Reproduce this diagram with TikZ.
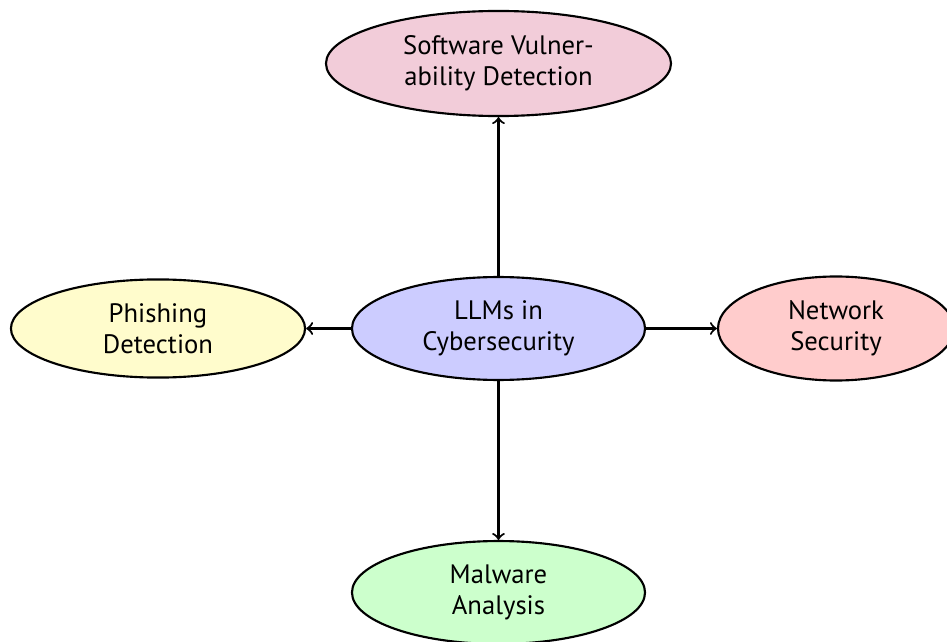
\documentclass[tikz,border=0pt]{standalone}
\usepackage{fontspec}
\setmainfont{PT Sans}
\usetikzlibrary{shapes.geometric}
\tikzset{
  topic/.style={ellipse, draw, thick, inner sep=0pt, align=center,
    font=\fontsize{10}{11.6}\selectfont},
  link/.style={->, thick}
}
\begin{document}
\begin{tikzpicture}[x=0.375pt, y=-0.375pt]
\useasboundingbox (0,0) rectangle (947,642);
\node[topic, fill=blue!20, minimum width=109.9pt, minimum height=38.6pt] (c) at (498.5,328.5) {LLMs in\\Cybersecurity};
\node[topic, fill=purple!20, minimum width=129.4pt, minimum height=39.4pt] (sv) at (498.5,63.5) {Software Vulner-\\ability Detection};
\node[topic, fill=yellow!20, minimum width=110.3pt, minimum height=36.8pt] (ph) at (158,328.5) {Phishing\\Detection};
\node[topic, fill=red!20, minimum width=88.5pt, minimum height=39pt] (ns) at (836,328.5) {Network\\Security};
\node[topic, fill=green!20, minimum width=109.9pt, minimum height=38.6pt] (ma) at (498.5,592.5) {Malware\\Analysis};
\draw[link] (c.north) -- (sv.south);
\draw[link] (c.west) -- (ph.east);
\draw[link] (c.east) -- (ns.west);
\draw[link] (c.south) -- (ma.north);
\end{tikzpicture}
\end{document}
